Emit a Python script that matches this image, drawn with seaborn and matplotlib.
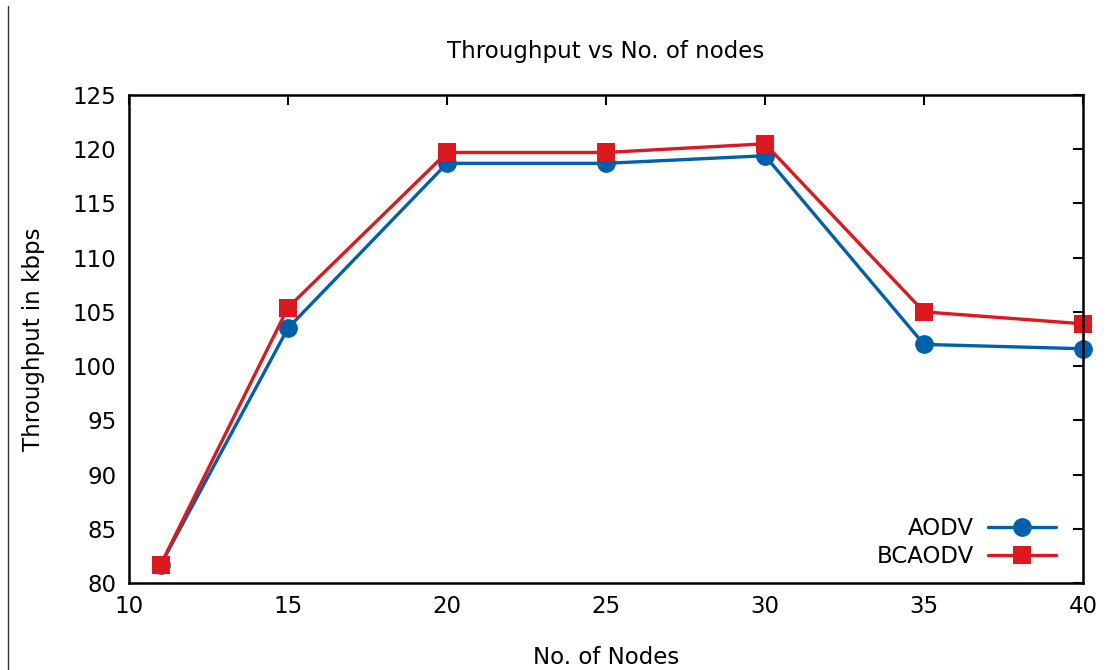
import pandas as pd
import matplotlib.pyplot as plt
import seaborn as sns
from matplotlib.lines import Line2D

# donnees
nodes = [11, 15, 20, 25, 30, 35, 40]
aodv = [81.7, 103.5, 118.7, 118.7, 119.4, 102.0, 101.6]
bcaodv = [81.7, 105.4, 119.7, 119.7, 120.5, 105.0, 103.9]
x_ticks = [10, 15, 20, 25, 30, 35, 40]
y_ticks = [80, 85, 90, 95, 100, 105, 110, 115, 120, 125]

df = pd.DataFrame({
    "nodes": nodes * 2,
    "throughput": aodv + bcaodv,
    "protocol": ["AODV"] * len(nodes) + ["BCAODV"] * len(nodes),
})

sns.set_style("white")
plt.rcParams['font.family'] = ['DejaVu Sans']
plt.rcParams['text.color'] = "black"
plt.rcParams['axes.labelcolor'] = "black"
plt.rcParams['xtick.color'] = "black"
plt.rcParams['ytick.color'] = "black"

fig = plt.figure(figsize=(11.11, 6.70), dpi=100)
ax = fig.add_axes([0.1161, 0.1299, 0.8587, 0.7283])

sns.lineplot(data=df, x="nodes", y="throughput", hue="protocol", style="protocol",
             palette={"AODV": "#0060ad", "BCAODV": "#dd181f"},
             markers={"AODV": "o", "BCAODV": "s"}, dashes=False,
             markersize=13.5, markeredgewidth=0, linewidth=2.4, ax=ax, clip_on=False)

ax.set_xlim(10, 40)
ax.set_ylim(80, 125)
ax.set_xticks(x_ticks)
ax.set_yticks(y_ticks)
ax.tick_params(direction="in", length=7.5, width=1.5, labelsize=16.5, pad=9,
               top=True, right=True, color="black", labelcolor="black")
for s in ax.spines.values():
    s.set_color("black")
    s.set_linewidth(1.8)

ax.set_title("Throughput vs No. of nodes", fontsize=16.5, pad=27, color="black")
ax.set_xlabel("No. of Nodes", fontsize=16.5, labelpad=20)
ax.set_ylabel("Throughput in kbps", fontsize=16.5, labelpad=20)

ax.legend(loc="lower right", bbox_to_anchor=(0.9853, 0.004), frameon=False,
          markerfirst=False, fontsize=16.5, handlelength=3.0, handletextpad=0.6,
          labelspacing=0.25, borderaxespad=0.15)

fig.add_artist(Line2D([8 / 1111, 8 / 1111], [0, 1 - 6 / 670], color="#333333", linewidth=1))

plt.savefig("out.png", dpi=100)
